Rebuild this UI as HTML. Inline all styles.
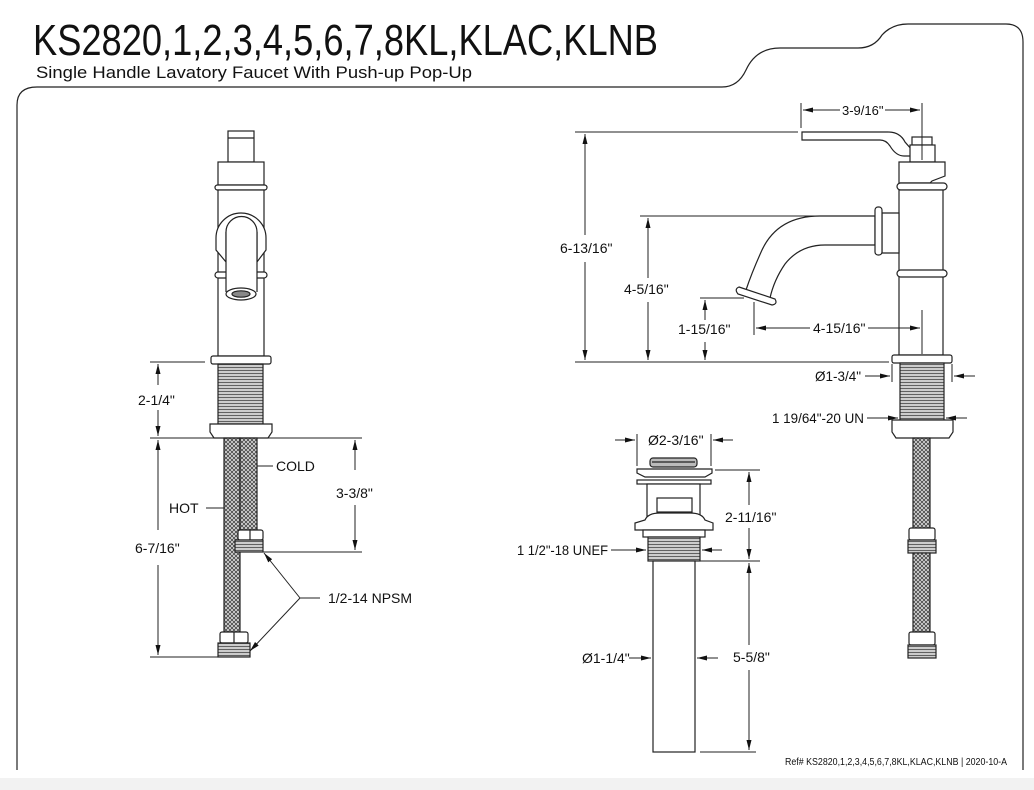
<!DOCTYPE html>
<html><head><meta charset="utf-8"><style>
html,body{margin:0;padding:0;background:#fff;}
svg{display:block;}
text{font-family:"Liberation Sans Narrow","Liberation Sans",sans-serif;fill:#111;}
</style></head><body>
<svg width="1034" height="790" viewBox="0 0 1034 790" xmlns="http://www.w3.org/2000/svg">
<defs>
<pattern id="hose" width="4" height="4" patternUnits="userSpaceOnUse">
<rect width="4" height="4" fill="#ddd"/>
<path d="M0,0L4,4M4,0L0,4" stroke="#444" stroke-width="0.8"/>
</pattern>
<pattern id="thr" width="4" height="3" patternUnits="userSpaceOnUse">
<rect width="4" height="3" fill="#ccc"/>
<path d="M0,1.5H4" stroke="#555" stroke-width="0.9"/>
</pattern>
<marker id="ar" markerWidth="10" markerHeight="6" refX="10" refY="3" orient="auto" markerUnits="userSpaceOnUse">
<path d="M0,0.5L10,3L0,5.5z" fill="#111"/>
</marker>
</defs>
<rect x="0" y="778" width="1034" height="12" fill="#f2f2f2"/>
<path d="M17,770 V105 Q17,87 37,87 H722 Q738,87 746,70 Q756,48 780,48 H858 Q874,48 882,35 Q892,24 908,24 H1006 Q1023,24 1023,42 V770" fill="none" stroke="#222" stroke-width="1.2"/>
<text x="33" y="55" font-size="44" textLength="625" lengthAdjust="spacingAndGlyphs">KS2820,1,2,3,4,5,6,7,8KL,KLAC,KLNB</text>
<text x="36" y="78" font-size="17" textLength="436" lengthAdjust="spacingAndGlyphs">Single Handle Lavatory Faucet With Push-up Pop-Up</text>

<g fill="#fff" stroke="#222" stroke-width="1.2">
<rect x="228" y="131" width="26" height="31"/>
<line x1="228" y1="138" x2="254" y2="138"/>
<rect x="218" y="162" width="46" height="23"/>
<rect x="215" y="185" width="52" height="5" rx="2.5"/>
<rect x="218" y="190" width="46" height="166"/>
<rect x="215" y="272" width="52" height="6" rx="3"/>
<path d="M216,238 A25,25 0 0 1 266,238 L266,250 L257,262 L257,232 A15.5,15.5 0 0 0 226,232 L226,262 L216,250 Z"/>
<rect x="226" y="232" width="31" height="60" stroke="none"/>
<path d="M226,232 V292 M257,232 V292"/>
<ellipse cx="241" cy="294" rx="15" ry="6"/>
<ellipse cx="241" cy="294" rx="9" ry="3.2" fill="#888"/>
<rect x="211" y="356" width="60" height="8" rx="2"/>
<rect x="218" y="364" width="45" height="60" fill="url(#thr)"/>
<path d="M210,424 H272 V432 L268,438 H214 L210,432 Z"/>
<rect x="224" y="438" width="16" height="194" fill="url(#hose)"/>
<rect x="240" y="438" width="17" height="92" fill="url(#hose)"/>
<rect x="238" y="530" width="25" height="10" rx="2"/>
<line x1="250" y1="530" x2="250" y2="540"/>
<rect x="235" y="540" width="28" height="12" fill="url(#thr)"/>
<rect x="220" y="632" width="28" height="11" rx="2"/>
<line x1="234" y1="632" x2="234" y2="643"/>
<rect x="218" y="643" width="32" height="14" fill="url(#thr)"/>

<path d="M802,132 H888 Q900,132 905,142 L912,150 L912,156 L904,156 Q896,156 890,146 Q886,140 880,140 H802 Z"/>
<rect x="912" y="137" width="20" height="8"/>
<rect x="910" y="145" width="25" height="17"/>
<path d="M899,162 H945 V176 L932,181 L930,183 H899 Z"/>
<rect x="897" y="183" width="50" height="7" rx="3.5"/>
<rect x="899" y="190" width="44" height="165"/>
<rect x="897" y="270" width="50" height="7" rx="3.5"/>
<path d="M882,213 H899 V253 H882 Z"/>
<path d="M875,216 H820 Q778,216 762,250 Q752,272 746,290 L770,298 Q774,280 785,264 Q800,245 825,245 H875 Z"/>
<rect x="875" y="207" width="7" height="48" rx="3"/>
<path d="M739,287 L775,299 Q778,304 772,305 L738,294 Q734,289 739,287 Z"/>
<rect x="892" y="355" width="60" height="8" rx="2"/>
<rect x="900" y="363" width="44" height="57" fill="url(#thr)"/>
<path d="M892,420 H953 V432 L949,438 H896 L892,432 Z"/>
<rect x="913" y="438" width="17" height="92" fill="url(#hose)"/>
<rect x="909" y="528" width="26" height="12" rx="2"/>
<rect x="908" y="540" width="28" height="13" fill="url(#thr)"/>
<rect x="913" y="553" width="17" height="79" fill="url(#hose)"/>
<rect x="909" y="632" width="26" height="13" rx="2"/>
<rect x="908" y="645" width="28" height="13" fill="url(#thr)"/>

<rect x="650" y="458" width="47" height="9" rx="3" fill="#bbb"/>
<line x1="652" y1="462" x2="695" y2="462"/>
<path d="M637,469 H712 V473 L705,477 H645 L637,473 Z"/>
<rect x="637" y="480" width="74" height="4"/>
<rect x="647" y="484" width="53" height="34"/>
<rect x="657" y="498" width="35" height="14"/>
<path d="M635,530 V523 L645,520 Q648,513 660,513 H690 Q702,513 705,520 L713,523 V530 Z"/>
<rect x="643" y="530" width="62" height="7"/>
<rect x="648" y="537" width="52" height="24" fill="url(#thr)"/>
<rect x="653" y="561" width="42" height="191"/>
</g>

<g stroke="#222" stroke-width="1" fill="none">
<path d="M150,362 H205 M150,438 H228 M257,438 H362 M263,552 H362 M150,657 H228"/>
<path d="M158,385 V364" marker-end="url(#ar)"/>
<path d="M158,410 V436" marker-end="url(#ar)"/>
<path d="M158,530 V440" marker-end="url(#ar)"/>
<path d="M158,565 V655" marker-end="url(#ar)"/>
<path d="M355,470 V440" marker-end="url(#ar)"/>
<path d="M355,505 V550" marker-end="url(#ar)"/>
<path d="M257,466 H273 M206,508 H224 M300,598 H320"/>
<path d="M300,598 L264,553" marker-end="url(#ar)"/>
<path d="M300,598 L250,651" marker-end="url(#ar)"/>
<path d="M575,132 H798 M801,103 V128 M922,103 V160 M640,216 H820 M700,298 H744 M754,302 V335 M922,310 V354 M575,362 H889"/>
<path d="M840,110 H803" marker-end="url(#ar)"/>
<path d="M885,110 H920" marker-end="url(#ar)"/>
<path d="M585,235 V134" marker-end="url(#ar)"/>
<path d="M585,262 V360" marker-end="url(#ar)"/>
<path d="M648,278 V218" marker-end="url(#ar)"/>
<path d="M648,302 V360" marker-end="url(#ar)"/>
<path d="M705,320 V300" marker-end="url(#ar)"/>
<path d="M705,342 V360" marker-end="url(#ar)"/>
<path d="M810,328 H756" marker-end="url(#ar)"/>
<path d="M868,328 H920" marker-end="url(#ar)"/>
<path d="M892,364 V382 M952,364 V382"/>
<path d="M865,376 H890" marker-end="url(#ar)"/>
<path d="M975,376 H954" marker-end="url(#ar)"/>
<path d="M867,418 H898" marker-end="url(#ar)"/>
<path d="M967,418 H946" marker-end="url(#ar)"/>
<path d="M637,434 V466 M711,434 V466 M715,470 H760 M700,561 H760 M700,752 H756"/>
<path d="M615,440 H635" marker-end="url(#ar)"/>
<path d="M733,440 H713" marker-end="url(#ar)"/>
<path d="M749,505 V472" marker-end="url(#ar)"/>
<path d="M749,528 V559" marker-end="url(#ar)"/>
<path d="M749,645 V563" marker-end="url(#ar)"/>
<path d="M749,670 V750" marker-end="url(#ar)"/>
<path d="M611,550 H646" marker-end="url(#ar)"/>
<path d="M722,550 H702" marker-end="url(#ar)"/>
<path d="M629,658 H651" marker-end="url(#ar)"/>
<path d="M718,658 H697" marker-end="url(#ar)"/>
</g>

<g font-size="14">
<text x="138" y="405">2-1/4"</text>
<text x="135" y="553">6-7/16"</text>
<text x="276" y="471">COLD</text>
<text x="169" y="513">HOT</text>
<text x="336" y="498">3-3/8"</text>
<text x="328" y="603">1/2-14 NPSM</text>
<text x="842" y="115" font-size="13">3-9/16"</text>
<text x="560" y="253">6-13/16"</text>
<text x="624" y="294">4-5/16"</text>
<text x="678" y="334">1-15/16"</text>
<text x="813" y="333">4-15/16"</text>
<text x="815" y="381" textLength="46" lengthAdjust="spacingAndGlyphs">Ø1-3/4"</text>
<text x="772" y="423" textLength="92" lengthAdjust="spacingAndGlyphs">1 19/64"-20 UN</text>
<text x="648" y="445">Ø2-3/16"</text>
<text x="725" y="522">2-11/16"</text>
<text x="517" y="555" textLength="91" lengthAdjust="spacingAndGlyphs">1 1/2"-18 UNEF</text>
<text x="582" y="663">Ø1-1/4"</text>
<text x="733" y="662">5-5/8"</text>
<text x="785" y="765" font-size="10" textLength="222" lengthAdjust="spacingAndGlyphs">Ref# KS2820,1,2,3,4,5,6,7,8KL,KLAC,KLNB | 2020-10-A</text>
</g>
</svg>
</body></html>
